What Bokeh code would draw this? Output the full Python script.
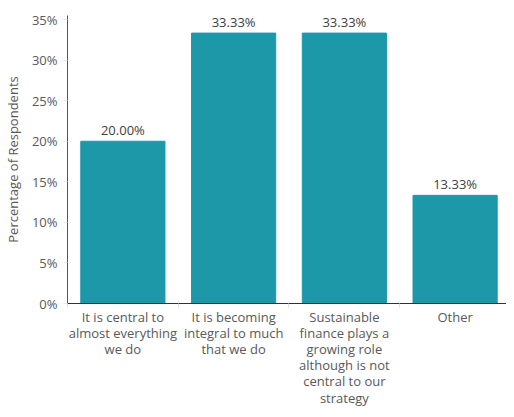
from bokeh.plotting import figure
from bokeh.models import ColumnDataSource, FixedTicker, Range1d
from bokeh.core.properties import value
from bokeh.embed import file_html
from bokeh.resources import INLINE

categories = [
    "It is central to\nalmost everything\nwe do",
    "It is becoming\nintegral to much\nthat we do",
    "Sustainable\nfinance plays a\ngrowing role\nalthough is not\ncentral to our\nstrategy",
    "Other",
]
values = [20.00, 33.33, 33.33, 13.33]
y_ticks = [0, 5, 10, 15, 20, 25, 30, 35]
y_tick_labels = ["0%", "5%", "10%", "15%", "20%", "25%", "30%", "35%"]

xs = list(range(len(categories)))
src = ColumnDataSource(dict(
    x=xs,
    top=values,
    label=["%.2f%%" % v for v in values],
))

FONT = "Open Sans"
BAR = "#1c98a8"
GREY = "#595959"

p = figure(width=506, height=409, output_backend="svg", toolbar_location=None,
           x_range=Range1d(-0.5, 3.464), y_range=Range1d(0, 35.5),
           min_border_left=0, min_border_right=0, min_border_top=15, min_border_bottom=0)
p.outline_line_color = None
p.xgrid.grid_line_color = None
p.ygrid.grid_line_color = None

p.vbar(x="x", top="top", bottom=0, width=0.76, color=BAR, source=src)
p.text(x="x", y="top", text="label", source=src, text_align="center",
       text_baseline="bottom", y_offset=-2, text_font=value(FONT),
       text_font_size="13px", text_color="#404040")

# y axis
p.yaxis.ticker = FixedTicker(ticks=y_ticks, minor_ticks=[])
p.yaxis.major_label_overrides = {t: l for t, l in zip(y_ticks, y_tick_labels)}
p.yaxis.axis_label = "Percentage of Respondents"
p.yaxis.axis_label_text_font = FONT
p.yaxis.axis_label_text_font_style = "normal"
p.yaxis.axis_label_text_font_size = "13px"
p.yaxis.axis_label_text_color = GREY
p.yaxis.axis_label_standoff = 7
p.yaxis.major_label_text_font = FONT
p.yaxis.major_label_text_font_size = "13px"
p.yaxis.major_label_text_color = GREY
p.yaxis.major_label_standoff = 6
p.yaxis.major_tick_line_color = "#e6e6e6"
p.yaxis.major_tick_out = 4
p.yaxis.major_tick_in = 0
p.yaxis.minor_tick_line_color = None
p.yaxis.axis_line_color = "#555555"
p.yaxis.axis_line_width = 1

# x axis
boundaries = [i - 0.5 for i in range(len(categories) + 1)]
p.xaxis.ticker = FixedTicker(ticks=xs, minor_ticks=boundaries)
p.xaxis.major_label_overrides = {x: c for x, c in zip(xs, categories)}
p.xaxis.major_label_text_font = FONT
p.xaxis.major_label_text_font_size = "13px"
p.xaxis.major_label_text_color = GREY
p.xaxis.major_label_text_line_height = 0.9
p.xaxis.major_label_standoff = 0
p.xaxis.major_tick_line_color = None
p.xaxis.major_tick_out = 0
p.xaxis.major_tick_in = 0
p.xaxis.minor_tick_line_color = "#e0e0e0"
p.xaxis.minor_tick_out = 4
p.xaxis.minor_tick_in = 0
p.xaxis.axis_line_color = "#333333"
p.xaxis.axis_line_width = 1

open("out.html", "w").write(file_html(p, INLINE))
